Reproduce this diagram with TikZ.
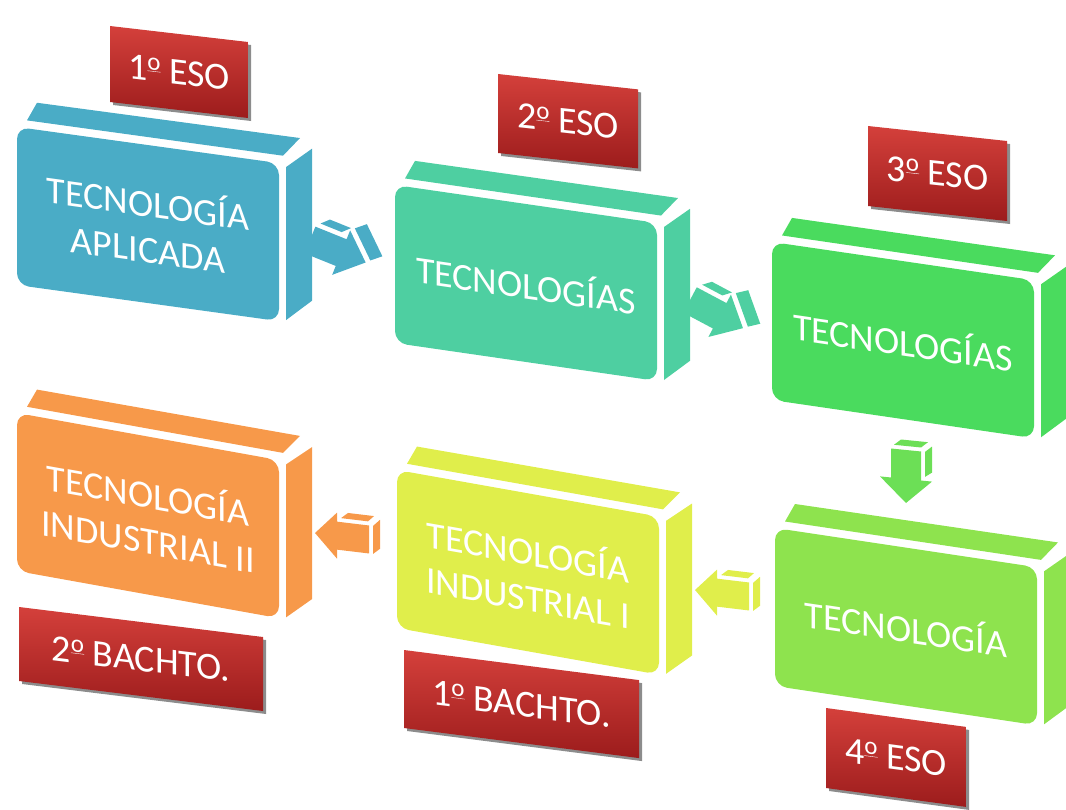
\documentclass[tikz,border=0pt]{standalone}
\usepackage{fontspec}
\setmainfont{Carlito}
\usetikzlibrary{shadows}

\definecolor{tecblue}{HTML}{4AACC6}
\definecolor{tecteal}{HTML}{4ECFA1}
\definecolor{tecgreen}{HTML}{4ADB5E}
\definecolor{teclime}{HTML}{8EE34E}
\definecolor{tecyellow}{HTML}{E0EE4B}
\definecolor{tecorange}{HTML}{F7994A}
\definecolor{gradetop}{HTML}{D4403B}
\definecolor{gradebot}{HTML}{9C1C1C}

\tikzset{
  front/.style={rounded corners=12pt, minimum width=262, minimum height=158,
    inner sep=0pt, text=white, align=center, transform shape,
    font=\fontsize{38}{46}\selectfont},
  grade/.style={top color=gradetop, bottom color=gradebot, inner sep=0pt,
    text=white, transform shape, font=\fontsize{38}{44}\selectfont,
    drop shadow={shadow xshift=3pt, shadow yshift=-3pt, fill=black, opacity=.45}}
}

% ordinal sign, underlined
\newcommand{\ordo}{\raisebox{0.3em}{\fontsize{25}{25}\selectfont\underline{o}}}

% box: shift, slant, colour, name, text
\newcommand{\techbox}[5]{%
  \begin{scope}[shift={#1}, yslant=#2]
    \fill[#3] (10,-8) -- (266,-8) -- (283,-28) -- (20,-27) -- cycle; % top
    \fill[#3] (269,3) -- (295,-19) -- (295,133) -- (269,156) -- cycle; % side
    \node[front, fill=#3] (#4) at (131,79) {#5};
  \end{scope}}

% course label: shift, slant, width, height, name, text
\newcommand{\gradelabel}[6]{%
  \begin{scope}[shift={#1}, yslant=#2]
    \node[grade, minimum width=#3, minimum height=#4] (#5) at (#3/2,#4/2) {#6};
  \end{scope}}

% block arrows: position, rotation, slant, colour
\newcommand{\flowright}[4]{%
  \begin{scope}[shift={#1}, rotate=#2, yslant=#3, scale=1.2]
    \fill[#4] (0,-12) -- (28,-12) -- (28,-20) -- (50,0) -- (28,20) -- (28,12) -- (0,12) -- cycle;
    \fill[#4] (3,-16) -- (22,-16) -- (28,-22) -- (9,-22) -- cycle;
    \fill[#4] (31,-23) -- (53,-3) -- (61,-10) -- (39,-30) -- cycle;
  \end{scope}}
\newcommand{\flowleft}[4]{%
  \begin{scope}[shift={#1}, rotate=#2, yslant=#3]
    \fill[#4] (0,0) -- (22,-23) -- (22,-14) -- (54,-14) -- (54,14) -- (22,14) -- (22,23) -- cycle;
    \fill[#4] (26,-18) -- (53,-18) -- (59,-24) -- (33,-24) -- cycle;
    \fill[#4] (58,-14) -- (65,-21) -- (65,8) -- (58,14) -- cycle;
  \end{scope}}
\newcommand{\flowdown}[4]{%
  \begin{scope}[shift={#1}, rotate=#2, yslant=#3]
    \fill[#4] (0,0) -- (-26,-24) -- (-15,-24) -- (-15,-53) -- (15,-53) -- (15,-24) -- (26,-24) -- cycle;
    \fill[#4] (-12,-57) -- (15,-57) -- (22,-63) -- (-5,-63) -- cycle;
    \fill[#4] (19,-53) -- (26,-59) -- (26,-33) -- (19,-28) -- cycle;
  \end{scope}}

\begin{document}
\begin{tikzpicture}[x=1pt, y=-1pt]
    \useasboundingbox (0,0) rectangle (1066,810);
    % ESO
    \techbox{(17,127)}{-0.138}{tecblue}{eso1}{TECNOLOGÍA\\APLICADA}
    \techbox{(395,185)}{-0.145}{tecteal}{eso2}{TECNOLOGÍAS}
    \techbox{(772,242)}{-0.146}{tecgreen}{eso3}{TECNOLOGÍAS}
    \techbox{(775,528)}{-0.15}{teclime}{eso4}{TECNOLOGÍA}
    % bachillerato
    \techbox{(397,470)}{-0.178}{tecyellow}{bach1}{TECNOLOGÍA\\INDUSTRIAL I}
    \techbox{(17,413)}{-0.18}{tecorange}{bach2}{TECNOLOGÍA\\INDUSTRIAL II}
    % courses
    \gradelabel{(110,26)}{-0.116}{138}{76}{c1}{1\ordo{} ESO}
    \gradelabel{(498,74)}{-0.11}{140}{79}{c2}{2\ordo{} ESO}
    \gradelabel{(868,126)}{-0.108}{139}{80}{c3}{3\ordo{} ESO}
    \gradelabel{(826,708)}{-0.135}{140}{80}{c4}{4\ordo{} ESO}
    \gradelabel{(404,650)}{-0.128}{235}{78}{c5}{1\ordo{} BACHTO.}
    \gradelabel{(19,607)}{-0.123}{244}{74}{c6}{2\ordo{} BACHTO.}
    % arrows
    \flowright{(310,240)}{-22}{0}{tecblue}
    \flowright{(690,300)}{-28}{0}{tecteal}
    \flowdown{(906,503)}{0}{-0.1}{tecgreen!50!teclime}
    \flowleft{(695,590)}{0}{-0.12}{tecyellow}
    \flowleft{(315,533)}{0}{-0.12}{tecorange}
\end{tikzpicture}
\end{document}
